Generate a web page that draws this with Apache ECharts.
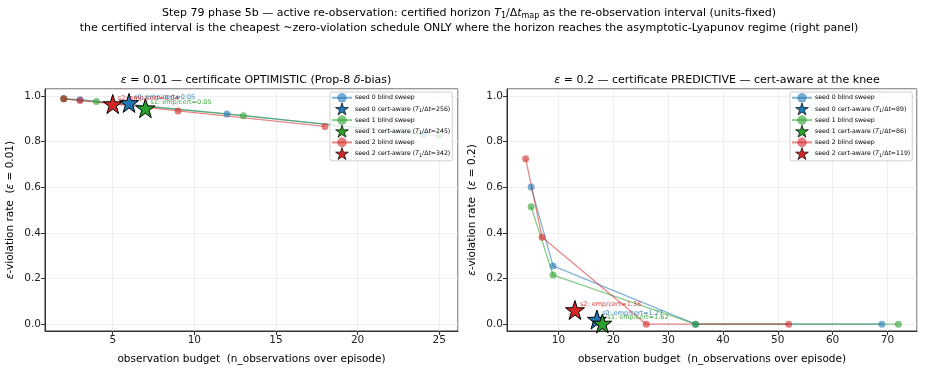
<!DOCTYPE html>
<html>
<head>
<meta charset="utf-8">
<script src="https://cdn.jsdelivr.net/npm/echarts@6/dist/echarts.min.js"></script>
<style>
  html, body { margin: 0; padding: 0; background: #fff; }
  #chart { width: 929px; height: 370px; }
</style>
</head>
<body>
<div id="chart"></div>
<script>
// ---- data ----
// left panel: eps = 0.01   [budget, violation rate]
const leftSweep0 = [[2, 0.987], [3, 0.983], [12, 0.921], [24, 0.83]]
const leftSweep1 = [[2, 0.987], [4, 0.975], [13, 0.913], [25, 0.825]]
const leftSweep2 = [[2, 0.987], [3, 0.98], [9, 0.934], [18, 0.866]]
const leftCert = [[6, 0.969], [7, 0.946], [5, 0.964]] // seed 0, 1, 2
const leftHorizon = [256, 245, 342]
const leftRatio = ['0.05', '0.05', '0.04']

// right panel: eps = 0.2
const rightSweep0 = [[5, 0.601], [9, 0.255], [35, 0.0], [69, 0.0]]
const rightSweep1 = [[5, 0.514], [9, 0.215], [35, 0.0], [72, 0.0]]
const rightSweep2 = [[4, 0.725], [7, 0.381], [26, 0.0], [52, 0.0]]
const rightCert = [[17, 0.02], [18, 0.003], [13, 0.062]]
const rightHorizon = [89, 86, 119]
const rightRatio = ['1.27', '1.62', '1.38']

const colors = ['#1f77b4', '#2ca02c', '#d62728']
const FONT = 'DejaVu Sans'
const STAR = 'path://M50,0 L61.8,35.1 L98.9,35.1 L68.8,56.7 L80.2,91.9 L50,70.2 L19.8,91.9 L31.2,56.7 L1.1,35.1 L38.2,35.1 Z'

const chart = echarts.init(document.getElementById('chart'), null, { renderer: 'canvas' })

const richText = {
  i: { fontStyle: 'italic', fontFamily: FONT, fontSize: 11, color: '#000' },
  s: { fontFamily: FONT, fontSize: 8, color: '#000', verticalAlign: 'bottom', padding: [6, 0, 0, 0] }
}
const legendRich = {
  i: { fontStyle: 'italic', fontFamily: FONT, fontSize: 6.2, color: '#000' },
  s: { fontFamily: FONT, fontSize: 4.8, color: '#000', padding: [4, 0, 0, 0] }
}

function sweepSeries(name, data, color, idx) {
  return {
    name: name,
    type: 'line',
    xAxisIndex: idx,
    yAxisIndex: idx,
    data: data,
    symbol: 'circle',
    symbolSize: 7,
    itemStyle: { color: color, opacity: 0.6 },
    lineStyle: { color: color, width: 1.3, opacity: 0.55 },
    z: 2,
    emphasis: { disabled: true }
  }
}

function certSeries(name, pt, color, idx, label) {
  return {
    name: name,
    type: 'scatter',
    xAxisIndex: idx,
    yAxisIndex: idx,
    data: [pt],
    symbol: STAR,
    symbolSize: 19,
    itemStyle: { color: color, borderColor: '#000', borderWidth: 1, opacity: 1 },
    label: {
      show: true,
      position: 'inside',
      align: 'left',
      verticalAlign: 'middle',
      offset: [5, -6],
      formatter: label,
      color: color,
      fontSize: 6.5,
      fontFamily: FONT,
      opacity: 0.9
    },
    z: 5,
    emphasis: { disabled: true }
  }
}

const sweeps = [
  [leftSweep0, leftSweep1, leftSweep2],
  [rightSweep0, rightSweep1, rightSweep2]
]
const certs = [leftCert, rightCert]
const horizons = [leftHorizon, rightHorizon]
const ratios = [leftRatio, rightRatio]

const series = []
const legendData = [[], []]
for (let p = 0; p < 2; p++) {
  for (let s = 0; s < 3; s++) {
    const sweepName = 'seed ' + s + ' blind sweep'
    const certName = 'seed ' + s + ' cert-aware (T1/Δt=' + horizons[p][s] + ')'
    series.push(sweepSeries(sweepName, sweeps[p][s], colors[s], p))
    series.push(certSeries(certName, certs[p][s], colors[s], p, 's' + s + ': emp/cert=' + ratios[p][s]))
    legendData[p].push(
      { name: sweepName },
      { name: certName, icon: STAR, itemStyle: { color: colors[s], borderColor: '#000', borderWidth: 0.7 } }
    )
  }
}

function xAxisOf(idx, min, max, split) {
  return {
    type: 'value',
    gridIndex: idx,
    min: min,
    max: max,
    splitNumber: split,
    name: 'observation budget  (n_observations over episode)',
    nameLocation: 'middle',
    nameGap: 23,
    nameTextStyle: { fontFamily: FONT, fontSize: 10.5, color: '#000' },
    axisLine: { onZero: false, lineStyle: { color: '#333', width: 1 } },
    axisTick: { length: 4, lineStyle: { color: '#333' } },
    axisLabel: { showMinLabel: false, showMaxLabel: false, fontFamily: FONT, fontSize: 10.5, color: '#222', margin: 4 },
    splitLine: { show: true, lineStyle: { color: '#ebebeb', width: 0.8 } }
  }
}

function yAxisOf(idx, eps) {
  return {
    type: 'value',
    gridIndex: idx,
    min: -0.03,
    max: 1.03,
    splitNumber: 5,
    name: '{i|ε}-violation rate  ({i|ε} = ' + eps + ')',
    nameLocation: 'middle',
    nameGap: 29,
    nameTextStyle: {
      fontFamily: FONT, fontSize: 10.5, color: '#000',
      rich: { i: { fontStyle: 'italic', fontFamily: FONT, fontSize: 10.5, color: '#000' } }
    },
    axisLine: { onZero: false, lineStyle: { color: '#333', width: 1 } },
    axisTick: { length: 4, lineStyle: { color: '#333' } },
    axisLabel: {
      showMinLabel: false, showMaxLabel: false, fontFamily: FONT, fontSize: 10.5, color: '#222', margin: 4,
      formatter: function (v) { return v.toFixed(1) }
    },
    splitLine: { show: true, lineStyle: { color: '#ebebeb', width: 0.8 } }
  }
}

function legendOf(left, data) {
  return {
    orient: 'vertical',
    left: left,
    top: 92,
    data: data,
    itemWidth: 20,
    itemHeight: 12,
    itemGap: 0,
    padding: [1, 2, 1, 1],
    backgroundColor: 'rgba(255,255,255,0.8)',
    borderColor: '#d0d0d0',
    borderWidth: 1,
    borderRadius: 2,
    selectedMode: false,
    textStyle: { fontFamily: FONT, fontSize: 6.2, color: '#000', padding: [0, 0, 0, -2], rich: legendRich },
    formatter: function (name) {
      return name.replace('T1/Δt', '{i|T}{s|1}/Δ{i|t}')
    }
  }
}

chart.setOption({
  animation: false,
  backgroundColor: '#fff',
  title: [
    {
      text: 'Step 79 phase 5b — active re-observation: certified horizon {i|T}{s|1}/Δ{i|t}{s|map} as the re-observation interval (units-fixed)',
      left: 464, top: 1, textAlign: 'center',
      textStyle: { fontFamily: FONT, fontSize: 11, fontWeight: 'normal', color: '#000', rich: richText }
    },
    {
      text: 'the certified interval is the cheapest ~zero-violation schedule ONLY where the horizon reaches the asymptotic-Lyapunov regime (right panel)',
      left: 464, top: 18, textAlign: 'center',
      textStyle: { fontFamily: FONT, fontSize: 11, fontWeight: 'normal', color: '#000' }
    },
    {
      text: '{i|ε} = 0.01 — certificate OPTIMISTIC (Prop-8 {i|δ}-bias)',
      left: 251, top: 70, textAlign: 'center',
      textStyle: { fontFamily: FONT, fontSize: 11, fontWeight: 'normal', color: '#000', rich: richText }
    },
    {
      text: '{i|ε} = 0.2 — certificate PREDICTIVE — cert-aware at the knee',
      left: 712, top: 70, textAlign: 'center',
      textStyle: { fontFamily: FONT, fontSize: 11, fontWeight: 'normal', color: '#000', rich: richText }
    }
  ],
  grid: [
    { left: 45, top: 89, width: 413, height: 243, show: true, borderColor: '#333', borderWidth: 1 },
    { left: 507, top: 89, width: 410, height: 243, show: true, borderColor: '#333', borderWidth: 1 }
  ],
  xAxis: [xAxisOf(0, 0.85, 26.15, 5), xAxisOf(1, 0.6, 75.4, 7)],
  yAxis: [yAxisOf(0, '0.01'), yAxisOf(1, '0.2')],
  legend: [legendOf(330, legendData[0]), legendOf(790, legendData[1])],
  series: series
})
</script>
</body>
</html>
